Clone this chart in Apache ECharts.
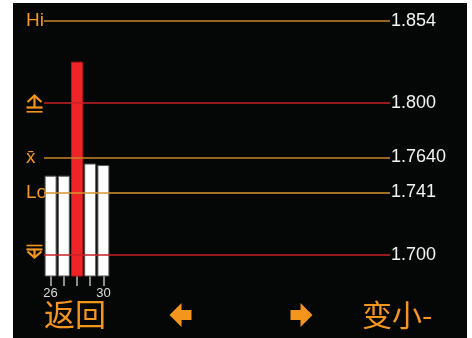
<!DOCTYPE html>
<html><head><meta charset="utf-8">
<script src="https://cdn.jsdelivr.net/npm/echarts@6/dist/echarts.min.js"></script>
<style>html,body{margin:0;padding:0;background:#fff;}#c{width:472px;height:338px;}</style>
</head><body><div id="c"></div>
<script>
// ---- data ----
const categories = ['26', '27', '28', '29', '30'];
const values = [1.752, 1.752, 1.827, 1.760, 1.759];
const highlighted = [false, false, true, false, false];
const refValues = [1.854, 1.800, 1.764, 1.741, 1.700];
const refLabels = ['1.854', '1.800', '1.7640', '1.741', '1.700'];
const refNames = ['Hi', '', 'x̄', 'Lo', ''];
const yMin = 1.686, yMax = 1.861;

const refColors = ['#C9852D', '#C8202A', '#C9852D', '#D8962E', '#C8202A'];
const orange = '#F4961E';

const chart = echarts.init(document.getElementById('c'));

const gridTop = 10, gridBottom = 62;
const graphics = [
  { type: 'rect', shape: { x: 13, y: 3, width: 454, height: 335 }, style: { fill: '#050606' }, z: -10 },
  // up-limit icon
  { type: 'polyline', shape: { points: [[27.5, 102], [34.5, 95.5], [41.5, 102]] }, style: { stroke: orange, lineWidth: 2.2, fill: null } },
  { type: 'line', shape: { x1: 34.5, y1: 96, x2: 34.5, y2: 107 }, style: { stroke: orange, lineWidth: 2.2 } },
  { type: 'line', shape: { x1: 26.5, y1: 107.5, x2: 42.5, y2: 107.5 }, style: { stroke: orange, lineWidth: 2.2 } },
  { type: 'line', shape: { x1: 26.5, y1: 111.8, x2: 42.5, y2: 111.8 }, style: { stroke: orange, lineWidth: 1.6 } },
  // down-limit icon
  { type: 'line', shape: { x1: 26.5, y1: 245.5, x2: 42.5, y2: 245.5 }, style: { stroke: orange, lineWidth: 1.6 } },
  { type: 'line', shape: { x1: 26.5, y1: 249.5, x2: 42.5, y2: 249.5 }, style: { stroke: orange, lineWidth: 2.2 } },
  { type: 'line', shape: { x1: 34.5, y1: 249.5, x2: 34.5, y2: 257.5 }, style: { stroke: orange, lineWidth: 2.2 } },
  { type: 'polyline', shape: { points: [[27.5, 251.5], [34.5, 257.5], [41.5, 251.5]] }, style: { stroke: orange, lineWidth: 2.2, fill: null } },
  // bottom arrows
  { type: 'polygon', shape: { points: [[169.5, 315], [181.5, 303], [181.5, 310], [191.5, 310], [191.5, 320], [181.5, 320], [181.5, 327]] }, style: { fill: orange } },
  { type: 'polygon', shape: { points: [[312.5, 315], [300.5, 303], [300.5, 310], [290.5, 310], [290.5, 320], [300.5, 320], [300.5, 327]] }, style: { fill: orange } },
  // bottom texts
  { type: 'text', left: 44, top: 299, style: { text: '返回', fill: orange, font: '31px "Noto Sans CJK SC"' } },
  { type: 'text', left: 362, top: 300, style: { text: '变小-', fill: orange, font: '30px "Noto Sans CJK SC"' } }
];
// left labels
const pxPerUnit = (338 - gridTop - gridBottom) / (yMax - yMin);
refNames.forEach((n, i) => {
  if (!n) return;
  const y = gridTop + (yMax - refValues[i]) * pxPerUnit;
  graphics.push({ type: 'text', x: 26, y: y, style: { text: n, fill: orange, font: '19px "Liberation Sans"', verticalAlign: 'middle', textAlign: 'left' } });
});

chart.setOption({
  animation: false,
  backgroundColor: '#ffffff',
  grid: [
    { left: 44, width: 66, top: gridTop, bottom: gridBottom },
    { left: 44, width: 346, top: gridTop, bottom: gridBottom }
  ],
  xAxis: [
    {
      type: 'category', gridIndex: 0, data: categories,
      axisLine: { show: false },
      axisTick: { show: true, alignWithLabel: true, length: 10, lineStyle: { color: '#bbbbbb', width: 1.5 } },
      axisLabel: { interval: 0, margin: 11, color: '#dddddd', fontSize: 13, fontFamily: 'Liberation Sans',
        formatter: (v, i) => (i === 0 || i === categories.length - 1) ? v : '' }
    },
    { type: 'value', gridIndex: 1, min: 0, max: 1, show: false }
  ],
  yAxis: [
    { type: 'value', gridIndex: 0, min: yMin, max: yMax, show: false },
    { type: 'value', gridIndex: 1, min: yMin, max: yMax, show: false }
  ],
  series: [
    {
      type: 'bar', xAxisIndex: 0, yAxisIndex: 0, barWidth: 12, z: 2,
      data: values.map((v, i) => ({
        value: v,
        itemStyle: highlighted[i]
          ? { color: '#EE2428', borderColor: '#B5161A', borderWidth: 1 }
          : { color: '#ffffff', borderColor: '#555555', borderWidth: 1 }
      }))
    },
    {
      type: 'line', xAxisIndex: 1, yAxisIndex: 1, data: [], z: 5,
      markLine: {
        silent: true, symbol: 'none', animation: false, precision: 4,
        data: refValues.map((v, i) => ({
          yAxis: v,
          lineStyle: { color: refColors[i], width: 1.6, type: 'solid' },
          label: { show: true, position: 'end', distance: 1, formatter: refLabels[i],
            color: '#f2f2f2', fontSize: 18, fontFamily: 'Liberation Sans' }
        }))
      }
    }
  ],
  graphic: graphics
});
</script></body></html>
